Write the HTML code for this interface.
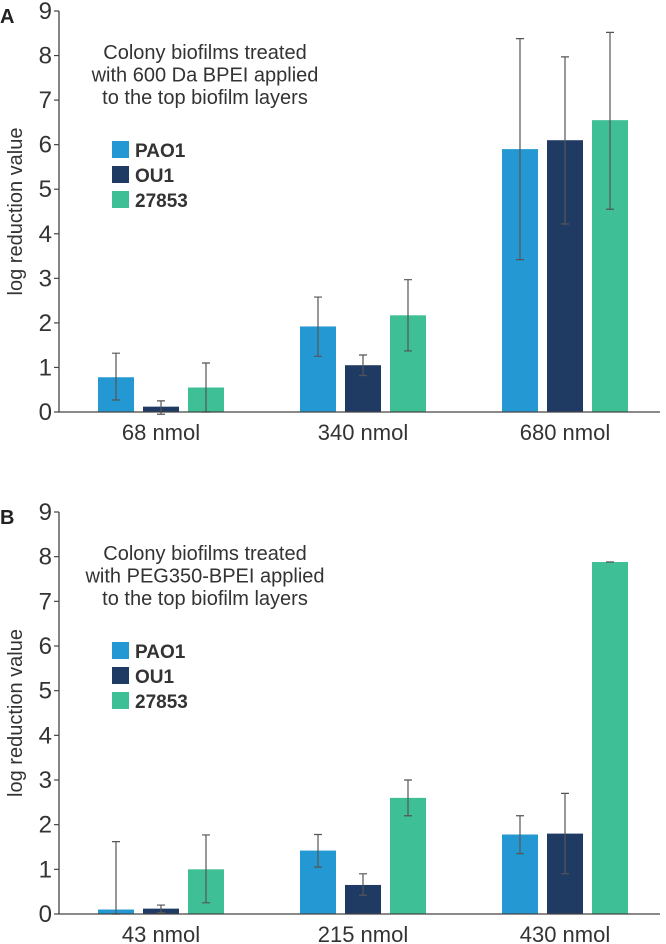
<!DOCTYPE html>
<html><head><meta charset="utf-8"><style>
body{margin:0;background:#fff;}
svg{display:block;font-family:"Liberation Sans",sans-serif;}
</style></head><body>
<svg id="s" width="666" height="944" xmlns="http://www.w3.org/2000/svg"></svg>
<script>
const series = ["PAO1","OU1","27853"];
const colors = ["#2498d2","#1f3a63","#3fbf95"];
const catsA = ["68 nmol","340 nmol","680 nmol"];
const valsA = [[0.78,1.92,5.9],[0.12,1.05,6.1],[0.55,2.17,6.55]];
const loA = [[0.27,1.25,3.42],[-0.05,0.82,4.22],[0.0,1.37,4.55]];
const hiA = [[1.32,2.58,8.38],[0.25,1.28,7.97],[1.1,2.97,8.52]];
const catsB = ["43 nmol","215 nmol","430 nmol"];
const valsB = [[0.1,1.42,1.78],[0.12,0.65,1.8],[1.0,2.6,7.88]];
const loB = [[0.0,1.05,1.35],[0.03,0.42,0.9],[0.25,2.2,7.88]];
const hiB = [[1.62,1.78,2.2],[0.2,0.9,2.7],[1.77,3.0,7.88]];
const ticks = [0,1,2,3,4,5,6,7,8,9];
const titleA = ["Colony biofilms treated","with 600 Da BPEI applied","to the top biofilm layers"];
const titleB = ["Colony biofilms treated","with PEG350-BPEI applied","to the top biofilm layers"];
const svg=document.getElementById('s');
const NS="http://www.w3.org/2000/svg";
function mk(t,a,p){const e=document.createElementNS(NS,t);for(const k in a)e.setAttribute(k,a[k]);(p||svg).appendChild(e);return e;}
function panel(letter,top0,top9,cats,vals,lo,hi,title,key){
  const g=mk('g',{});
  
  
  const y=v=>top0-(top0-top9)*v/9;
  const x0=59, gw=202, first=98, bw=36, gap=9;
  const xb=(c,s)=>first+c*gw+s*(bw+gap);
  const L=mk('text',{x:0,y:top9+12,'font-size':20,'font-weight':'bold',fill:'#222'},g);L.textContent=letter;
  
  
  ticks.forEach(t=>{
    const tl=mk('line',{x1:x0-5,x2:x0,y1:y(t),y2:y(t),stroke:'#444','stroke-width':1.2},g);
    
    
    const tx=mk('text',{x:x0-7,y:y(t)+8,'font-size':24,'text-anchor':'end',fill:'#333'},g);tx.textContent=t;
    
    
  });
  const ya=mk('line',{x1:x0,x2:x0,y1:y(9),y2:y(0),stroke:'#444','stroke-width':1.3},g);
  
  
  const yt=mk('text',{transform:`translate(22,${(y(0)+y(9))/2}) rotate(-90)`,'font-size':20,'text-anchor':'middle',fill:'#333'},g);yt.textContent='log reduction value';
  
  
  cats.forEach((c,ci)=>{
    series.forEach((s,si)=>{
      const v=vals[si][ci];
      const r=mk('rect',{x:xb(ci,si),y:y(v),width:bw,height:y(0)-y(v),fill:colors[si]},g);
      
      
      const cx=xb(ci,si)+bw/2;
      const eb=mk('path',{d:`M${cx},${y(lo[si][ci])}V${y(hi[si][ci])}M${cx-4},${y(lo[si][ci])}h8M${cx-4},${y(hi[si][ci])}h8`,stroke:'#555','stroke-width':1.2,fill:'none'},g);
      
      
    });
    const xl=mk('text',{x:first+ci*gw+bw*1.5+gap,y:y(0)+28,'font-size':22,'text-anchor':'middle',fill:'#333'},g);xl.textContent=c;
    
    
  });
  const xa=mk('line',{x1:x0,x2:660,y1:y(0),y2:y(0),stroke:'#444','stroke-width':1.3},g);
  
  
  title.forEach((t,i)=>{
    const tt=mk('text',{x:205,y:top9+48+i*22.5,'font-size':20,'text-anchor':'middle',fill:'#333'},g);tt.textContent=t;
    
    
  });
  series.forEach((s,i)=>{
    const ly=top9+130+i*25;
    const sw=mk('rect',{x:112,y:ly,width:17,height:17,fill:colors[i]},g);
    
    
    const lt=mk('text',{x:135,y:ly+16,'font-size':19,'font-weight':'bold',fill:'#333'},g);lt.textContent=s;
    
    
  });
}
panel('A',412,11,catsA,valsA,loA,hiA,titleA,'a');
panel('B',914,512,catsB,valsB,loB,hiB,titleB,'b');
</script>
</body></html>
